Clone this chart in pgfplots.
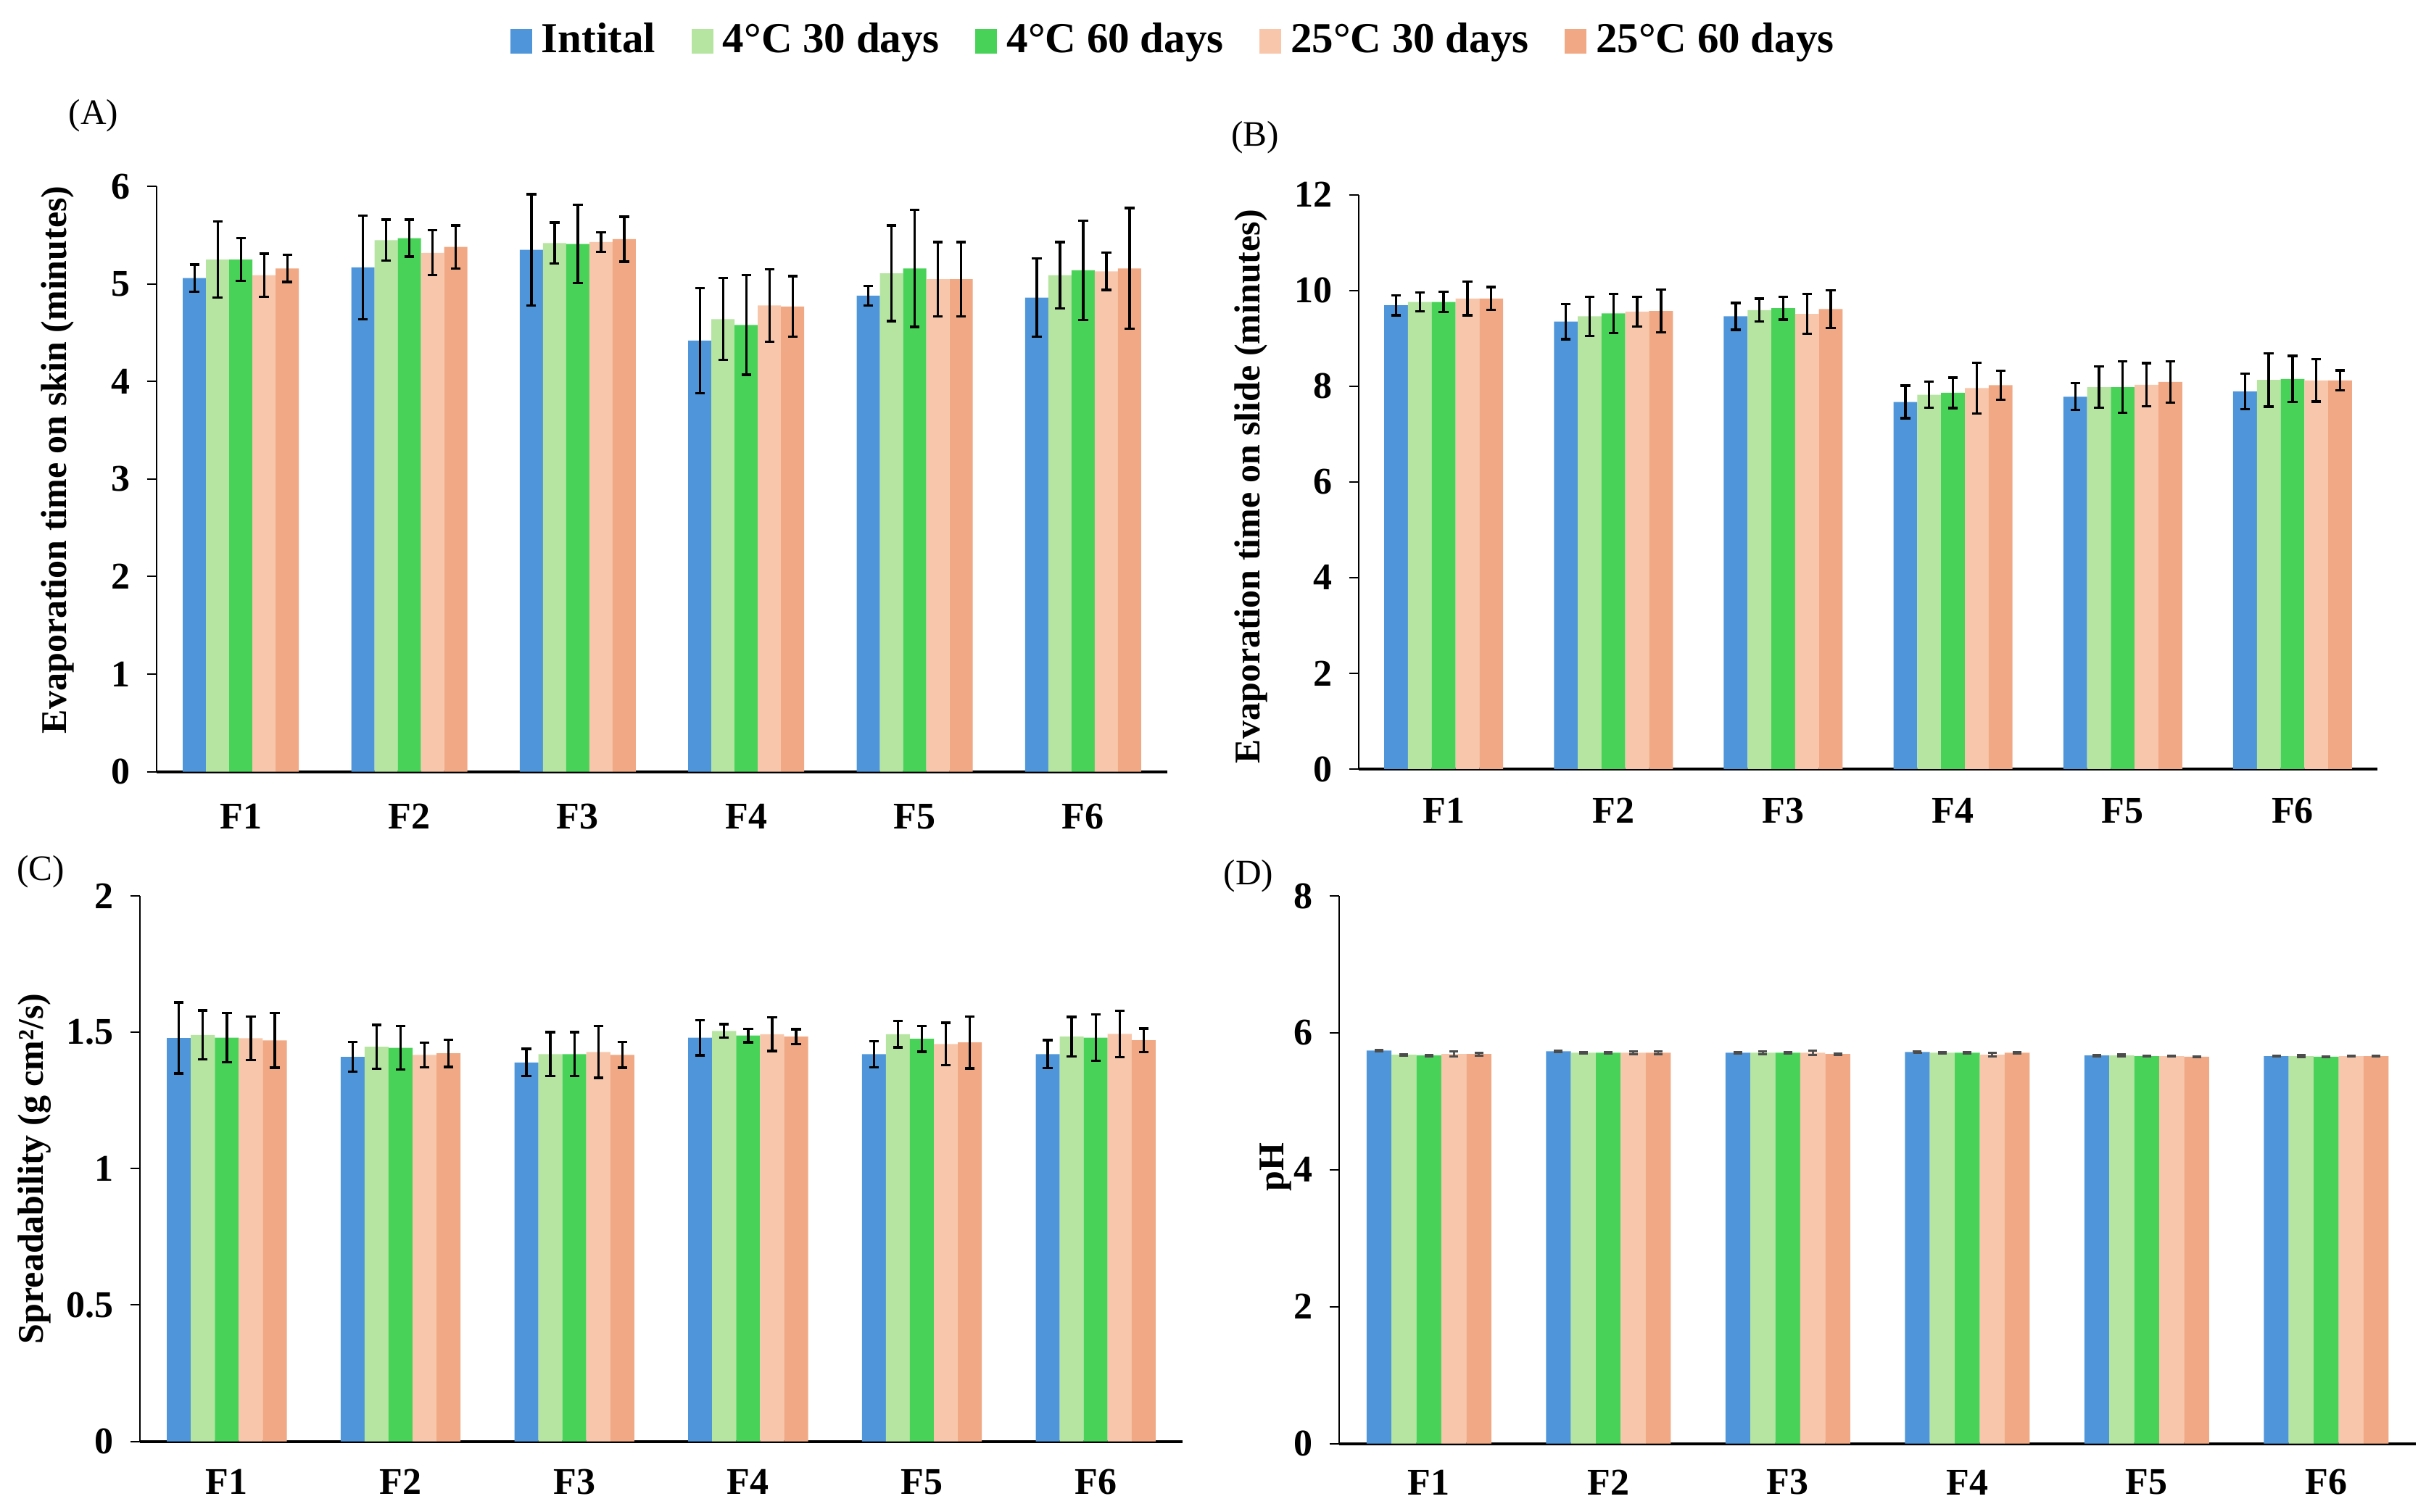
\documentclass[border=0pt]{standalone}
\usepackage{fontspec}
\setmainfont{Liberation Serif}
\usepackage{pgfplots}
\pgfplotsset{compat=1.18}
\usepackage{pgfplotstable}

\definecolor{cA}{RGB}{79,149,218}
\definecolor{cB}{RGB}{181,229,161}
\definecolor{cC}{RGB}{72,211,88}
\definecolor{cD}{RGB}{248,199,171}
\definecolor{cE}{RGB}{240,169,132}

\newcommand{\tickfont}{\bfseries\fontsize{7.8}{9}\selectfont}
\newcommand{\labfont}{\bfseries\fontsize{7.5}{9}\selectfont}

\pgfplotstableread{
x a ea b eb c ec d ed e ee
0 5.06 0.14 5.25 0.39 5.25 0.22 5.09 0.22 5.16 0.14
1 5.17 0.53 5.45 0.21 5.47 0.19 5.32 0.23 5.38 0.22
2 5.35 0.57 5.42 0.21 5.41 0.40 5.43 0.10 5.46 0.23
3 4.42 0.54 4.64 0.42 4.58 0.51 4.78 0.37 4.77 0.31
4 4.88 0.10 5.11 0.49 5.16 0.60 5.05 0.38 5.05 0.38
5 4.86 0.40 5.09 0.34 5.14 0.51 5.13 0.19 5.16 0.62
}\tA

\pgfplotstableread{
x a ea b eb c ec d ed e ee
0 9.69 0.21 9.76 0.20 9.76 0.21 9.83 0.35 9.83 0.24
1 9.35 0.37 9.46 0.41 9.52 0.41 9.56 0.31 9.57 0.45
2 9.46 0.28 9.59 0.24 9.63 0.24 9.51 0.42 9.61 0.39
3 7.67 0.34 7.82 0.27 7.86 0.32 7.96 0.53 8.02 0.30
4 7.78 0.28 7.98 0.43 7.98 0.54 8.03 0.45 8.09 0.43
5 7.89 0.37 8.13 0.56 8.15 0.48 8.12 0.44 8.12 0.21
}\tB

\pgfplotstableread{
x a ea b eb c ec d ed e ee
0 1.479 0.13 1.49 0.09 1.48 0.09 1.478 0.08 1.47 0.10
1 1.41 0.055 1.447 0.08 1.443 0.08 1.417 0.045 1.423 0.05
2 1.389 0.05 1.42 0.08 1.42 0.08 1.428 0.095 1.417 0.047
3 1.48 0.065 1.505 0.025 1.488 0.025 1.493 0.062 1.484 0.027
4 1.42 0.048 1.493 0.048 1.476 0.047 1.457 0.078 1.463 0.095
5 1.42 0.051 1.484 0.072 1.48 0.085 1.494 0.085 1.471 0.043
}\tC

\pgfplotstableread{
x a ea b eb c ec d ed e ee
0 5.74 0.01 5.68 0.01 5.67 0.01 5.69 0.04 5.69 0.02
1 5.73 0.01 5.71 0.01 5.71 0.01 5.71 0.02 5.71 0.02
2 5.71 0.01 5.71 0.02 5.71 0.01 5.71 0.03 5.69 0.01
3 5.72 0.01 5.71 0.01 5.71 0.01 5.68 0.03 5.71 0.01
4 5.67 0.01 5.67 0.02 5.66 0.01 5.66 0.01 5.65 0.01
5 5.66 0.01 5.66 0.02 5.65 0.01 5.66 0.01 5.66 0.01
}\tD

\pgfplotsset{
 panel/.style={
  scale only axis, anchor=south west,
  ybar=0pt,
  xmin=-0.5, xmax=5.5, ymin=0,
  enlarge y limits=false, enlarge x limits=false,
  axis x line=bottom, axis y line=left,
  every outer x axis line/.append style={-, line width=0.6pt},
  every outer y axis line/.append style={-, line width=0.3pt},
  xtick={0,...,5}, xticklabels={F1,F2,F3,F4,F5,F6},
  xtick style={draw=none},
  ytick style={line width=0.3pt, black},
  tick align=outside, major tick length=2pt,
  /pgf/number format/assume math mode=true,
  ticklabel style={font=\tickfont},
  ylabel style={font=\labfont, anchor=center},
  clip=false,
 },
 bars/.style={draw=none, fill=#1, error bars/.cd, y dir=both, y explicit,
   error bar style={line width=0.5pt, black},
   error mark options={rotate=90, line width=0.5pt, mark size=1pt, black}},
 barsg/.style={draw=none, fill=#1, error bars/.cd, y dir=both, y explicit,
   error bar style={line width=0.4pt, black!65},
   error mark options={rotate=90, line width=0.45pt, mark size=0.9pt, black!70}},
}

\begin{document}
\begin{tikzpicture}
\path[use as bounding box] (0,0) rectangle (501.9pt,312.75pt);

% Panel A
\begin{axis}[panel, at={(32.4pt,153.06pt)}, width=209.1pt, height=121.1pt,
  ymax=6, ytick={0,1,...,6}, bar width=4.8pt,
  xticklabel style={anchor=center, inner sep=0pt, yshift=-7.3pt},
  ylabel={Evaporation time on skin (minutes)},
  ylabel style={at={(axis description cs:-0.098,0.533)}},
  legend style={at={(1.0048,1.248)}, anchor=center, draw=none, fill=none,
    legend columns=5, font=\bfseries\fontsize{8.85}{10}\selectfont,
    /tikz/every even column/.append style={column sep=7.4pt},
    /tikz/every odd column/.append style={column sep=2pt},
    nodes={inner sep=0pt}},
  legend image code/.code={\draw[#1,draw=none] (0pt,-2.6pt) rectangle (4.5pt,2.6pt);},
]
\addplot[bars=cA] table[x=x,y=a,y error=ea]{\tA};
\addplot[bars=cB] table[x=x,y=b,y error=eb]{\tA};
\addplot[bars=cC] table[x=x,y=c,y error=ec]{\tA};
\addplot[bars=cD] table[x=x,y=d,y error=ed]{\tA};
\addplot[bars=cE] table[x=x,y=e,y error=ee]{\tA};
\legend{Intital, 4°C 30 days, 4°C 60 days, 25°C 30 days, 25°C 60 days}
\end{axis}

% Panel B
\begin{axis}[panel, at={(281.1pt,153.6pt)}, width=210.75pt, height=118.85pt,
  ymax=12, ytick={0,2,...,12}, bar width=4.92pt,
  xticklabel style={anchor=center, inner sep=0pt, yshift=-6.6pt},
  ylabel={Evaporation time on slide (minutes)},
  ylabel style={at={(axis description cs:-0.106,0.492)}},
]
\addplot[bars=cA] table[x=x,y=a,y error=ea]{\tB};
\addplot[bars=cB] table[x=x,y=b,y error=eb]{\tB};
\addplot[bars=cC] table[x=x,y=c,y error=ec]{\tB};
\addplot[bars=cD] table[x=x,y=d,y error=ed]{\tB};
\addplot[bars=cE] table[x=x,y=e,y error=ee]{\tB};
\end{axis}

% Panel C
\begin{axis}[panel, at={(28.95pt,14.45pt)}, width=215.7pt, height=112.9pt,
  ymax=2, ytick={0,0.5,1,1.5,2}, bar width=4.96pt,
  xticklabel style={anchor=center, inner sep=0pt, yshift=-6.4pt},
  ylabel={Spreadability (g cm²/s)},
  ylabel style={at={(axis description cs:-0.101,0.50)}},
]
\addplot[bars=cA] table[x=x,y=a,y error=ea]{\tC};
\addplot[bars=cB] table[x=x,y=b,y error=eb]{\tC};
\addplot[bars=cC] table[x=x,y=c,y error=ec]{\tC};
\addplot[bars=cD] table[x=x,y=d,y error=ed]{\tC};
\addplot[bars=cE] table[x=x,y=e,y error=ee]{\tC};
\end{axis}

% Panel D
\begin{axis}[panel, at={(277.05pt,14.01pt)}, width=222.75pt, height=113.34pt,
  ymax=8, ytick={0,2,...,8}, bar width=5.16pt,
  xticklabel style={anchor=center, inner sep=0pt, yshift=-6.0pt},
  ylabel={pH},
  ylabel style={at={(axis description cs:-0.059,0.505)}},
]
\addplot[barsg=cA] table[x=x,y=a,y error=ea]{\tD};
\addplot[barsg=cB] table[x=x,y=b,y error=eb]{\tD};
\addplot[barsg=cC] table[x=x,y=c,y error=ec]{\tD};
\addplot[barsg=cD] table[x=x,y=d,y error=ed]{\tD};
\addplot[barsg=cE] table[x=x,y=e,y error=ee]{\tD};
\end{axis}

\node[font=\fontsize{7.4}{9}\selectfont] at (19.35pt,288.75pt) {(A)};
\node[font=\fontsize{7.4}{9}\selectfont] at (259.65pt,284.25pt) {(B)};
\node[font=\fontsize{7.4}{9}\selectfont] at (8.4pt,132.3pt) {(C)};
\node[font=\fontsize{7.4}{9}\selectfont] at (258.3pt,131.4pt) {(D)};
\end{tikzpicture}
\end{document}
